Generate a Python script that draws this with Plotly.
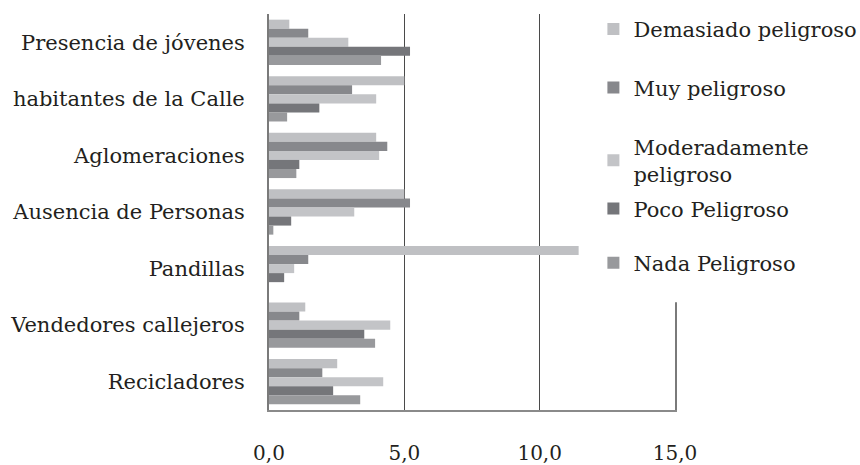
import plotly.graph_objects as go

# Categories listed top to bottom as they appear on the chart
categorias = [
    "Presencia de jóvenes",
    "habitantes de la Calle",
    "Aglomeraciones",
    "Ausencia de Personas",
    "Pandillas",
    "Vendedores callejeros",
    "Recicladores",
]

demasiado = [0.75, 5.0, 3.96, 5.0, 11.44, 1.34, 2.52]
muy = [1.45, 3.07, 4.37, 5.21, 1.45, 1.12, 1.97]
moderado = [2.93, 3.96, 4.07, 3.15, 0.93, 4.48, 4.22]
poco = [5.21, 1.86, 1.12, 0.82, 0.56, 3.52, 2.37]
nada = [4.14, 0.67, 1.01, 0.16, 0.0, 3.92, 3.37]

series = [
    ("Demasiado peligroso", demasiado, "#bfc0c3", "legend", 0.937),
    ("Muy peligroso", muy, "#87888c", "legend2", 0.811),
    ("Moderadamente<br>peligroso", moderado, "#c3c4c7", "legend3", 0.655),
    ("Poco Peligroso", poco, "#75767a", "legend4", 0.551),
    ("Nada Peligroso", nada, "#98999c", "legend5", 0.434),
]

FONT = "DejaVu Serif"
TXT = "#231f20"

fig = go.Figure()
legend_layout = {}
for name, vals, color, leg, ly in series:
    fig.add_trace(go.Bar(
        y=categorias, x=vals, name=name, orientation="h",
        marker=dict(color=color, line=dict(width=0)),
        legend=leg,
    ))
    legend_layout[leg] = dict(
        xref="container", yref="container",
        x=0.69, y=ly, xanchor="left", yanchor="middle",
        font=dict(family=FONT, size=21, color=TXT),
        bgcolor="rgba(0,0,0,0)", itemwidth=30,
    )

fig.update_layout(
    width=860, height=465,
    margin=dict(l=269, r=185, t=14, b=55, autoexpand=False),
    paper_bgcolor="white", plot_bgcolor="white",
    barmode="group", bargap=0.2, bargroupgap=0,
    showlegend=True,
    font=dict(family=FONT, size=21, color=TXT),
    xaxis=dict(
        range=[0, 15], tickvals=[0, 5, 10, 15],
        ticktext=["0,0", "5,0", "10,0", "15,0"],
        showgrid=True, gridcolor="#4a4a4a", gridwidth=1,
        zeroline=False, showline=True, linecolor="#8a8a8a", linewidth=2,
        ticks="", ticklabelstandoff=24, automargin=False,
        tickfont=dict(family=FONT, size=20, color=TXT),
    ),
    yaxis=dict(
        autorange="reversed", showgrid=False, zeroline=False,
        showline=True, linecolor="#7a7a7a", linewidth=2, mirror=True,
        ticks="", ticklabelstandoff=18, automargin=False,
        tickfont=dict(family=FONT, size=21, color=TXT),
    ),
    # white panel behind the legend entries
    shapes=[dict(
        type="rect", xref="paper", yref="paper",
        x0=0.85, x1=1.05, y0=0.272, y1=1.02,
        fillcolor="white", line=dict(width=0), layer="above",
    )],
    **legend_layout,
)

fig.write_html("out.html")
